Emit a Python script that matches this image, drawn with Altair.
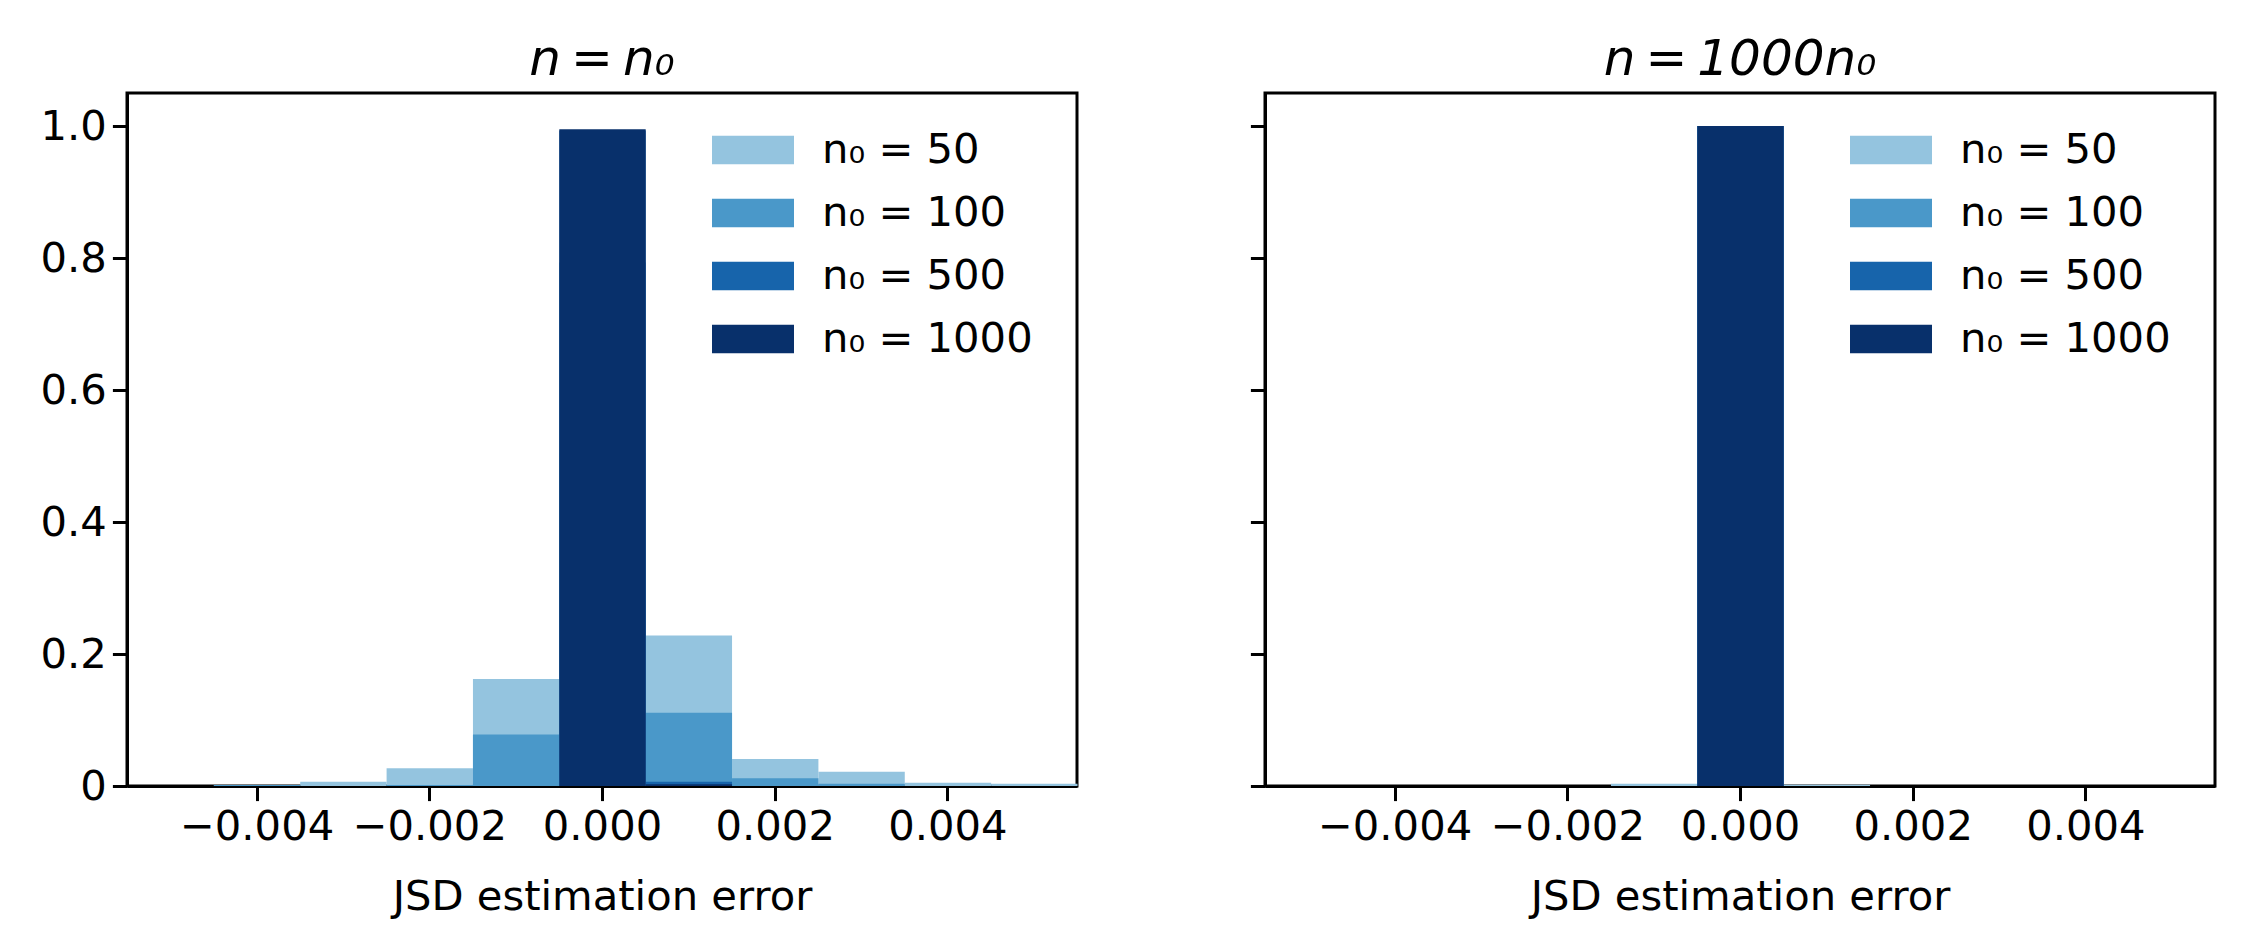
import altair as alt
import pandas as pd

# ---- data ----
bin_centers = [-0.005, -0.004, -0.003, -0.002, -0.001, 0.0, 0.001, 0.002, 0.003, 0.004, 0.005]
bin_width = 0.001
series_labels = ["n₀ = 50", "n₀ = 100", "n₀ = 500", "n₀ = 1000"]
series_colors = ["#94c4df", "#4a98c9", "#1764ab", "#08306b"]

# left panel: n = n0 (share of runs in each error bin)
left_n50 = [0, 0.001, 0.0066, 0.027, 0.162, 0.504, 0.228, 0.041, 0.0217, 0.005, 0.0035]
left_n100 = [0, 0.0015, 0, 0.0015, 0.078, 0.793, 0.111, 0.0116, 0.0035, 0, 0]
left_n500 = [0, 0, 0, 0, 0, 0.993, 0.0066, 0, 0, 0, 0]
left_n1000 = [0, 0, 0, 0, 0, 0.995, 0.0025, 0, 0, 0, 0]

# right panel: n = 1000 n0
right_n50 = [0, 0, 0, 0, 0.0035, 0.9945, 0.002, 0, 0, 0, 0]
right_n100 = [0, 0, 0, 0, 0, 1.0, 0, 0, 0, 0, 0]
right_n500 = [0, 0, 0, 0, 0, 1.0, 0, 0, 0, 0, 0]
right_n1000 = [0, 0, 0, 0, 0, 1.0, 0, 0, 0, 0, 0]

x_ticks = [-0.004, -0.002, 0.0, 0.002, 0.004]
y_ticks = [0, 0.2, 0.4, 0.6, 0.8, 1.0]
x_domain = [-0.0055, 0.0055]
y_domain = [0, 1.05]
panel_titles = ["n\u2009=\u2009n₀", "n\u2009=\u20091000n₀"]
x_title = "JSD estimation error"

FONT = "DejaVu Sans"
FS = 41.7


def make_df(series_values):
    rows = []
    for k, (label, vals) in enumerate(zip(series_labels, series_values)):
        for c, v in zip(bin_centers, vals):
            if v > 0:
                rows.append({"center": c, "share": v, "series": label, "order": k})
    return pd.DataFrame(rows)


def panel(df, title, show_y_labels):
    return (
        alt.Chart(
            df,
            title=alt.TitleParams(
                title, fontSize=50, fontStyle="italic", fontWeight="normal",
                font=FONT, color="black", offset=8, anchor="middle",
            ),
        )
        .transform_calculate(
            lo=f"datum.center - {bin_width / 2}",
            hi=f"datum.center + {bin_width / 2}",
        )
        .mark_bar(opacity=1, strokeWidth=0, binSpacing=0)
        .encode(
            x=alt.X(
                "lo:Q", bin="binned",
                scale=alt.Scale(domain=x_domain, nice=False, zero=False),
                axis=alt.Axis(values=x_ticks, format=".3f", title=x_title),
            ),
            x2="hi:Q",
            y=alt.Y(
                "share:Q", stack=None,
                scale=alt.Scale(domain=y_domain, nice=False),
                axis=alt.Axis(
                    values=y_ticks, title=None, labels=show_y_labels,
                    labelExpr="datum.value == 0 ? '0' : format(datum.value, '.1f')",
                ),
            ),
            color=alt.Color(
                "series:N",
                scale=alt.Scale(domain=series_labels, range=series_colors),
                legend=alt.Legend(
                    title=None, orient="none", legendX=585, legendY=16,
                    symbolType="M-1,-0.35L1,-0.35L1,0.35L-1,0.35Z",
                    symbolSize=6724, symbolStrokeWidth=0, symbolOpacity=1,
                    labelFontSize=FS, labelFont=FONT, labelColor="black",
                    labelOffset=28, rowPadding=0, padding=0,
                    labelLimit=400,
                ),
            ),
            order=alt.Order("order:Q"),
        )
        .properties(width=950, height=693)
    )


left = panel(make_df([left_n50, left_n100, left_n500, left_n1000]), panel_titles[0], True)
right = panel(make_df([right_n50, right_n100, right_n500, right_n1000]), panel_titles[1], False)

chart = (
    alt.hconcat(left, right, spacing=168)
    .resolve_scale(color="independent")
    .resolve_legend(color="independent")
    .properties(padding={"left": 30, "top": 25, "right": 5, "bottom": 5})
    .configure(font=FONT)
    .configure_view(stroke="black", strokeWidth=3)
    .configure_axis(
        domainColor="black", domainWidth=3, tickColor="black", tickWidth=3,
        tickSize=14.6, labelFontSize=FS, labelFont=FONT, labelColor="black",
        labelPadding=6, grid=False, titleFontSize=FS, titleFont=FONT,
        titleFontWeight="normal", titleColor="black", titlePadding=28,
    )
)

chart.save("out.html", embed_options={"renderer": "svg", "actions": False})
